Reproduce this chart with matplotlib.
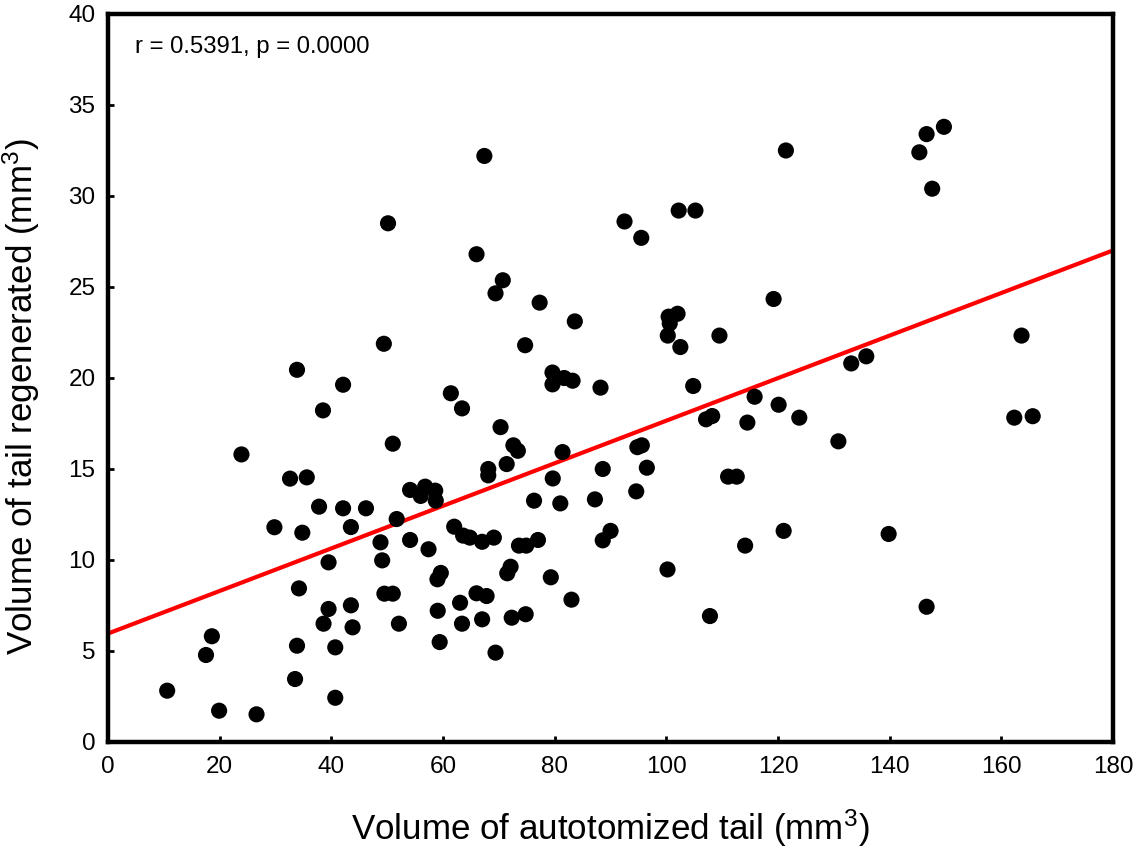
import numpy as np
import matplotlib
matplotlib.use('Agg')
import matplotlib.pyplot as plt

plt.rcParams['font.family'] = ['Liberation Sans', 'DejaVu Sans']
plt.rcParams['mathtext.fontset'] = 'custom'
plt.rcParams['mathtext.rm'] = 'Liberation Sans'
plt.rcParams['mathtext.it'] = 'Liberation Sans'

# volume of autotomized tail (mm3)
autotomized = [
    10.6, 17.55, 18.6, 19.9, 26.6, 23.9, 29.8, 32.6, 35.6, 33.85,
    42.1, 38.5, 51.0, 61.4, 34.8, 37.8, 42.1, 46.2, 43.5, 51.7,
    54.1, 56.8, 56.0, 58.6, 58.7, 48.8, 54.1, 57.4, 62.0, 49.1,
    39.5, 34.2, 59.6, 59.0, 49.5, 51.0, 39.5, 43.5, 59.05, 38.6,
    43.8, 52.1, 33.85, 40.7, 59.4, 33.5, 40.7, 50.15, 49.4, 67.4,
    121.4, 92.5, 95.5, 102.2, 105.2, 66.0, 70.7, 69.4, 77.3, 83.6,
    74.7, 119.2, 109.5, 100.4, 102.0, 100.6, 100.25, 102.5, 79.6, 79.6,
    81.7, 83.2, 88.2, 104.8, 63.4, 70.3, 72.6, 73.4, 81.4, 68.1,
    68.1, 71.4, 79.65, 88.6, 94.8, 95.6, 96.5, 107.1, 108.2, 115.8,
    120.1, 114.5, 111.05, 112.6, 76.3, 81.0, 87.2, 94.6, 63.6, 64.8,
    67.0, 69.1, 73.6, 74.9, 77.0, 88.6, 90.0, 114.1, 121.0, 72.1,
    71.5, 79.3, 100.2, 66.0, 67.8, 63.05, 83.0, 63.4, 67.0, 72.3,
    74.8, 107.8, 69.4, 149.7, 146.6, 145.3, 147.6, 163.6, 133.1, 135.8,
    123.8, 130.8, 162.3, 165.6, 139.8, 146.6,
]
# volume of tail regenerated (mm3)
regenerated = [
    2.82, 4.78, 5.81, 1.72, 1.52, 15.8, 11.8, 14.47, 14.54, 20.45,
    19.63, 18.22, 16.39, 19.16, 11.5, 12.93, 12.84, 12.84, 11.81, 12.25,
    13.85, 14.03, 13.52, 13.81, 13.26, 10.97, 11.1, 10.59, 11.83, 9.98,
    9.87, 8.44, 9.29, 8.94, 8.15, 8.15, 7.31, 7.51, 7.21, 6.5,
    6.3, 6.5, 5.29, 5.2, 5.49, 3.46, 2.43, 28.5, 21.88, 32.2,
    32.5, 28.6, 27.7, 29.2, 29.2, 26.8, 25.37, 24.65, 24.14, 23.11,
    21.8, 24.34, 22.33, 23.37, 23.53, 23.0, 22.33, 21.7, 20.3, 19.65,
    20.0, 19.85, 19.47, 19.56, 18.33, 17.3, 16.3, 16.0, 15.93, 15.0,
    14.65, 15.27, 14.48, 15.0, 16.2, 16.3, 15.07, 17.73, 17.91, 18.97,
    18.53, 17.55, 14.58, 14.58, 13.26, 13.11, 13.33, 13.77, 11.34, 11.23,
    11.0, 11.23, 10.79, 10.79, 11.1, 11.08, 11.6, 10.79, 11.6, 9.63,
    9.27, 9.05, 9.48, 8.17, 8.02, 7.65, 7.82, 6.5, 6.74, 6.83,
    7.02, 6.92, 4.91, 33.8, 33.4, 32.4, 30.4, 22.33, 20.8, 21.19,
    17.82, 16.52, 17.82, 17.9, 11.43, 7.43,
]
stats_text = 'r = 0.5391, p = 0.0000'

x = np.array(autotomized)
y = np.array(regenerated)
slope, intercept = np.polyfit(x, y, 1)

fig = plt.figure(figsize=(11.44, 8.58), dpi=100)
ax = fig.add_axes([0.0944, 0.1352, 0.8786, 0.8485])

ax.scatter(x, y, s=135, color='black', edgecolors='none', zorder=3)
xl = np.array([0, 180])
ax.plot(xl, intercept + slope * xl, color='#ff0000', lw=3, zorder=2)

ax.set_xlim(0, 180)
ax.set_ylim(0, 40)
ax.set_xticks(np.arange(0, 181, 20))
ax.set_yticks(np.arange(0, 41, 5))
for s in ax.spines.values():
    s.set_linewidth(3.2)
ax.tick_params(direction='in', length=4, width=2, labelsize=17.5)
ax.tick_params(axis='x', pad=10)
ax.tick_params(axis='y', pad=9)

ax.set_xlabel(r'Volume of autotomized tail (mm$^3$)', fontsize=25.2, labelpad=21)
ax.set_ylabel(r'Volume of tail regenerated (mm$^3$)', fontsize=25.2)
ax.yaxis.set_label_coords(-0.066, 0.474)
ax.text(0.027, 0.955, stats_text, transform=ax.transAxes, fontsize=17.2,
        va='center', ha='left')

fig.savefig('out.png', dpi=100)
